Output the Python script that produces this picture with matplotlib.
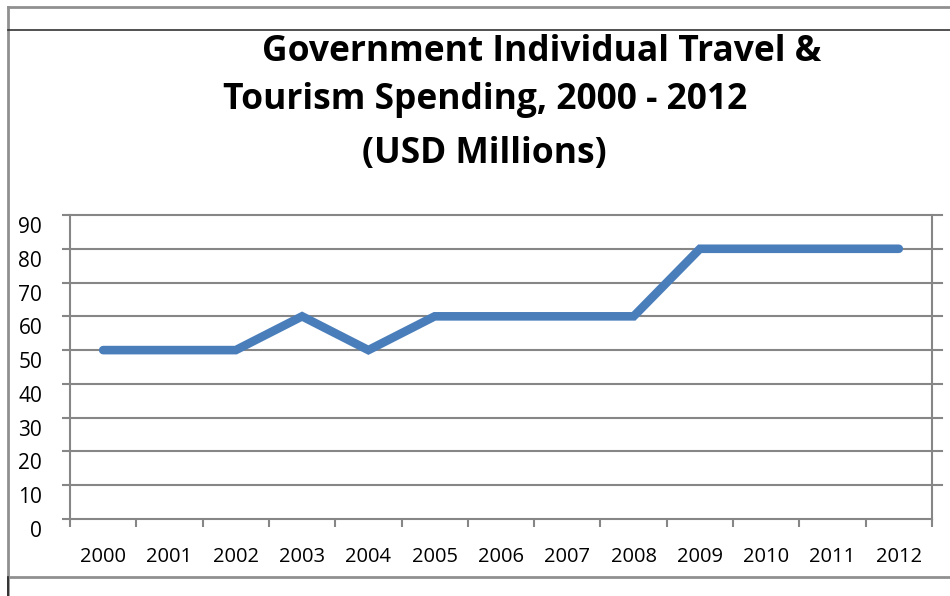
import matplotlib.pyplot as plt
from matplotlib.lines import Line2D
from matplotlib import transforms

years = ["2000", "2001", "2002", "2003", "2004", "2005", "2006",
         "2007", "2008", "2009", "2010", "2011", "2012"]
spending = [50, 50, 50, 60, 50, 60, 60, 60, 60, 80, 80, 80, 80]
y_ticks = [0, 10, 20, 30, 40, 50, 60, 70, 80, 90]

plt.rcParams['font.family'] = ['Open Sans', 'DejaVu Sans']

fig = plt.figure(figsize=(9.5, 5.96), dpi=100)
ax = fig.add_axes([70 / 950, 1 - 519 / 596, 862 / 950, 304 / 596])

x = list(range(len(years)))
ax.plot(x, spending, color='#4a7ebb', linewidth=6.2, solid_capstyle='round',
        solid_joinstyle='miter', zorder=3)

ax.set_xlim(-0.5, len(years) - 0.5)
ax.set_ylim(0, 90)

# gridlines run a little past the right spine
for v in y_ticks[1:]:
    ax.add_line(Line2D([0, 1.012], [v / 90, v / 90], transform=ax.transAxes,
                       color='#868686', linewidth=1.5, clip_on=False, zorder=1))

ax.spines['top'].set_visible(False)
for side in ['left', 'right', 'bottom']:
    ax.spines[side].set_color('#868686')
    ax.spines[side].set_linewidth(1.5)

ax.set_yticks(y_ticks)
ax.set_yticklabels([str(v) for v in y_ticks], fontsize=15)
ax.tick_params(axis='y', length=6, width=1.5, color='#868686', pad=14)
shift = transforms.ScaledTranslation(0, -10 / 100, fig.dpi_scale_trans)
for lbl in ax.get_yticklabels():
    lbl.set_transform(lbl.get_transform() + shift)

# category ticks sit on the boundaries, labels in the middle
ax.set_xticks([i - 0.5 for i in range(len(years) + 1)])
ax.set_xticklabels([])
ax.set_xticks(x, minor=True)
ax.set_xticklabels(years, minor=True, fontsize=14.5)
ax.tick_params(axis='x', which='major', length=6, width=1.5, color='#868686')
ax.tick_params(axis='x', which='minor', length=0, pad=20)

# chart frame
frame = dict(transform=fig.transFigure, clip_on=False)
fig.add_artist(Line2D([8 / 950, 1], [1 - 7 / 596] * 2, color='#909090', linewidth=2, **frame))
fig.add_artist(Line2D([8 / 950, 8 / 950], [0, 1 - 7 / 596], color='#909090', linewidth=2, **frame))
fig.add_artist(Line2D([8 / 950, 1], [1 - 30 / 596] * 2, color='#333333', linewidth=1.2, **frame))
fig.add_artist(Line2D([8 / 950, 1], [1 - 577 / 596] * 2, color='#909090', linewidth=2, **frame))
fig.add_artist(Line2D([8 / 950, 8 / 950], [0, 1 - 577 / 596], color='#222222', linewidth=1.2, **frame))

title_lines = [("Government Individual Travel &", 542, 52),
               ("Tourism Spending, 2000 - 2012", 485, 100),
               ("(USD Millions)", 484, 154)]
for txt, cx, cy in title_lines:
    fig.text(cx / 950, 1 - cy / 596, txt, ha='center', va='center',
             fontsize=25.5, fontweight='bold')

fig.savefig("out.png", dpi=100)
